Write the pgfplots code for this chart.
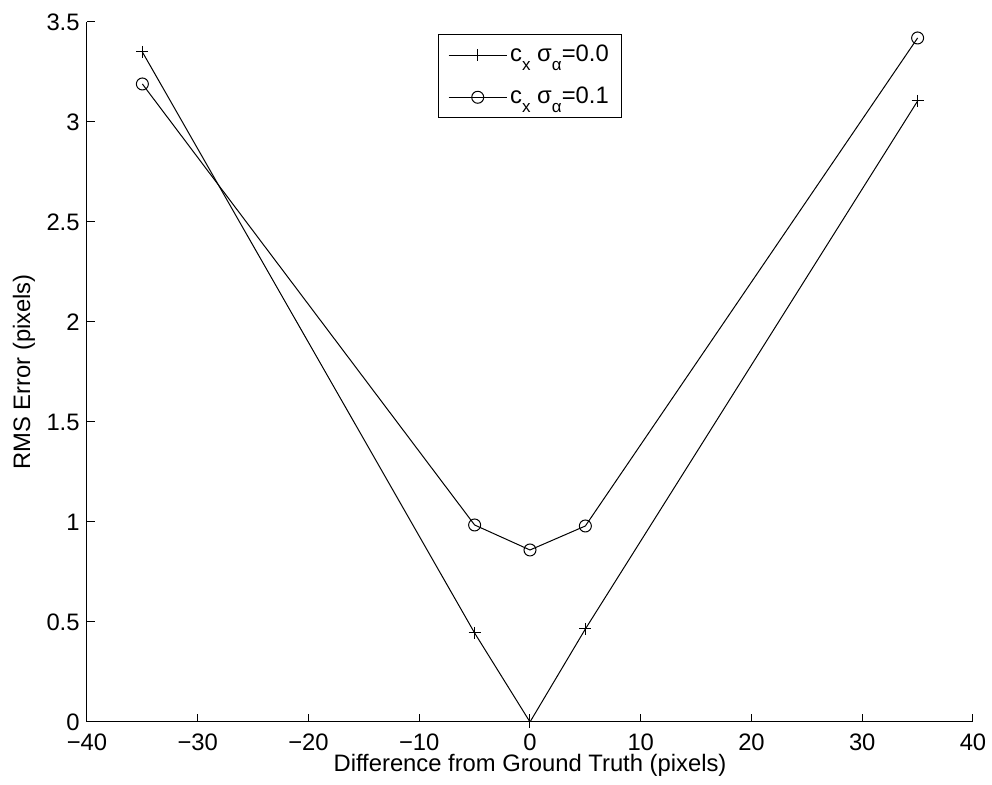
\documentclass[border=0pt]{standalone}
\usepackage{fontspec}
\setmainfont{Liberation Sans}
\usepackage{pgfplots}
\pgfplotsset{compat=1.18}
\newcommand{\sub}[1]{\raisebox{-4.5pt}{\fontsize{8.5}{10}\selectfont #1}}
\begin{document}
\fontsize{11.9}{14}\selectfont
\begin{tikzpicture}
\begin{axis}[
  scale only axis,
  width=443pt, height=350pt,
  xmin=-40, xmax=40, ymin=0, ymax=3.5,
  axis x line*=bottom, axis y line*=left,
  axis line style={line width=0.5pt, -},
  tick align=inside,
  major tick length=4pt,
  tick style={line width=0.5pt, black},
  xtick={-40,-30,-20,-10,0,10,20,30,40},
  xticklabels={−40,−30,−20,−10,0,10,20,30,40},
  ytick={0,0.5,1,1.5,2,2.5,3,3.5},
  yticklabels={0,0.5,1,1.5,2,2.5,3,3.5},
  xticklabel style={inner sep=0pt, anchor=north, yshift=-5.5pt, font=\fontsize{11.9}{14}\selectfont},
  yticklabel style={inner sep=0pt, anchor=east, xshift=-3.5pt, font=\fontsize{11.9}{14}\selectfont},
  xlabel={Difference from Ground Truth (pixels)},
  ylabel={RMS Error (pixels)},
  every axis x label/.style={at={(axis description cs:0.5,-0.0614)}, anchor=center, font=\fontsize{11.9}{14}\selectfont},
  every axis y label/.style={at={(axis description cs:-0.0711,0.5)}, rotate=90, anchor=center, font=\fontsize{11.9}{14}\selectfont},
  legend style={at={(axis description cs:0.5,1)}, anchor=north, yshift=-6.25pt,
    draw=black, line width=0.5pt, inner xsep=5pt, inner ysep=3.5pt,
    font=\fontsize{11.9}{14}\selectfont, row sep=8pt,
    nodes={inner sep=1.5pt}},
  legend cell align=left,
  legend image code/.code={\draw[mark repeat=2, mark phase=2] plot coordinates {(0pt,0pt) (14.5pt,0pt) (29pt,0pt)};},
]
\addplot[black, line width=0.5pt, mark=+, mark size=3pt, mark options={line width=0.5pt}]
  coordinates {(-35,3.35) (-5,0.445) (0,0) (5,0.465) (35,3.105)};
\addlegendentry{c\sub{x} σ\sub{α}=0.0}
\addplot[black, line width=0.5pt, mark=o, mark size=3pt, mark options={line width=0.5pt}]
  coordinates {(-35,3.19) (-5,0.985) (0,0.86) (5,0.98) (35,3.42)};
\addlegendentry{c\sub{x} σ\sub{α}=0.1}
\end{axis}
\pgfresetboundingbox
\path[use as bounding box] ([shift={(-43.5pt,-31.5pt)}]current axis.south west) rectangle ([shift={(452.5pt,361pt)}]current axis.south west);
\end{tikzpicture}
\end{document}
